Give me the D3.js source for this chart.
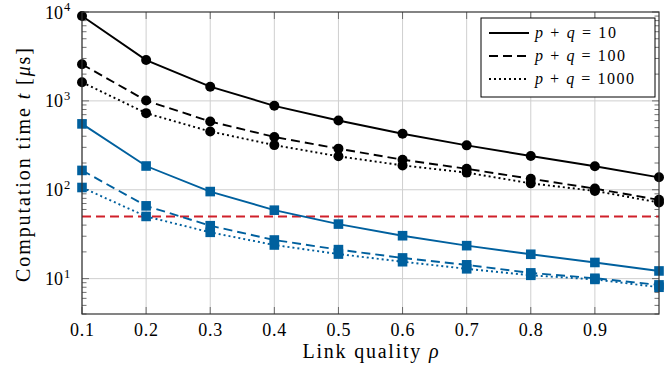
<!DOCTYPE html>
<html>
<head>
<meta charset="utf-8">
<script src="https://cdn.jsdelivr.net/npm/d3@7"></script>
<style>
  html, body { margin: 0; padding: 0; background: #fff; }
  svg { display: block; }
  text { font-family: "Liberation Serif", "DejaVu Serif", serif; fill: #000; }
</style>
</head>
<body>
<svg id="chart" width="672" height="368"></svg>
<script>
// ---- data ----
const rho = [0.1, 0.2, 0.3, 0.4, 0.5, 0.6, 0.7, 0.8, 0.9, 1.0];
const xTicks = [0.1, 0.2, 0.3, 0.4, 0.5, 0.6, 0.7, 0.8, 0.9];
const xTickLabels = ["0.1", "0.2", "0.3", "0.4", "0.5", "0.6", "0.7", "0.8", "0.9"];
const yTicks = [10, 100, 1000, 10000];
const yTickExps = ["1", "2", "3", "4"];
const legendLabels = ["10", "100", "1000"];

// black (circles)
const black10   = [9000, 2880, 1445, 880, 601, 427, 316, 240, 184, 138];
const black100  = [2580, 1008, 586, 393, 290, 218, 172, 133, 103, 77];
const black1000 = [1620, 728, 453, 318, 238, 188, 156, 118, 97, 72];
// blue (squares)
const blue10   = [551, 185, 95.4, 58.9, 41.1, 30.4, 23.5, 18.8, 15.2, 12.2];
const blue100  = [165, 65.9, 39.4, 27.2, 21.2, 17.1, 14.3, 11.6, 10.1, 8.5];
const blue1000 = [106, 50.1, 33.2, 23.9, 18.9, 15.5, 12.9, 10.9, 9.8, 8.0];
// threshold
const threshold = 50;

// ---- layout ----
const L = 82, R = 659, T = 12, B = 314;
const svg = d3.select("#chart");
const x = d3.scaleLinear().domain([0.1, 1.0]).range([L, R]);
const y = d3.scaleLog().domain([4, 10000]).range([B, T]);

const BLUE = "#00609e", RED = "#d0202a";
const styles = {
  solid: null,
  dashed: "9,5",
  dotted: "2,3"
};

// grid
const g = svg.append("g");
g.selectAll(".vx").data(xTicks).enter().append("line")
  .attr("x1", d => x(d)).attr("x2", d => x(d)).attr("y1", T).attr("y2", B)
  .attr("stroke", "#cfcfcf").attr("stroke-width", 1);
g.selectAll(".hy").data(yTicks.filter(d => d < 10000)).enter().append("line")
  .attr("x1", L).attr("x2", R).attr("y1", d => y(d)).attr("y2", d => y(d))
  .attr("stroke", "#cfcfcf").attr("stroke-width", 1);

// minor y ticks
const minor = [];
[1, 10, 100, 1000].forEach(dec => { for (let k = 2; k <= 9; k++) { const v = k * dec; if (v >= 4 && v < 10000) minor.push(v); } });
const tickCol = "#4d4d4d";
minor.forEach(v => {
  g.append("line").attr("x1", L).attr("x2", L + 4.5).attr("y1", y(v)).attr("y2", y(v)).attr("stroke", tickCol).attr("stroke-width", 0.8);
  g.append("line").attr("x1", R).attr("x2", R - 4.5).attr("y1", y(v)).attr("y2", y(v)).attr("stroke", tickCol).attr("stroke-width", 0.8);
});
yTicks.forEach(v => {
  g.append("line").attr("x1", L).attr("x2", L + 7).attr("y1", y(v)).attr("y2", y(v)).attr("stroke", tickCol).attr("stroke-width", 0.8);
  g.append("line").attr("x1", R).attr("x2", R - 7).attr("y1", y(v)).attr("y2", y(v)).attr("stroke", tickCol).attr("stroke-width", 0.8);
});
xTicks.forEach(v => {
  g.append("line").attr("x1", x(v)).attr("x2", x(v)).attr("y1", B).attr("y2", B - 7).attr("stroke", tickCol).attr("stroke-width", 0.8);
  g.append("line").attr("x1", x(v)).attr("x2", x(v)).attr("y1", T).attr("y2", T + 7).attr("stroke", tickCol).attr("stroke-width", 0.8);
});

// threshold line
svg.append("line").attr("x1", L).attr("x2", R).attr("y1", y(threshold)).attr("y2", y(threshold))
  .attr("stroke", RED).attr("stroke-width", 1.8).attr("stroke-dasharray", "9,5");

// series
const series = [
  { v: black10, c: "#000", dash: styles.solid, m: "circle" },
  { v: black100, c: "#000", dash: styles.dashed, m: "circle" },
  { v: black1000, c: "#000", dash: styles.dotted, m: "circle" },
  { v: blue10, c: BLUE, dash: styles.solid, m: "square" },
  { v: blue100, c: BLUE, dash: styles.dashed, m: "square" },
  { v: blue1000, c: BLUE, dash: styles.dotted, m: "square" }
];
const line = d3.line().x((d, i) => x(rho[i])).y(d => y(d));
series.forEach(s => {
  svg.append("path").attr("d", line(s.v)).attr("fill", "none")
    .attr("stroke", s.c).attr("stroke-width", 1.9)
    .attr("stroke-dasharray", s.dash);
  const mg = svg.append("g");
  if (s.m === "circle") {
    mg.selectAll("circle").data(s.v).enter().append("circle")
      .attr("cx", (d, i) => x(rho[i])).attr("cy", d => y(d)).attr("r", 5).attr("fill", s.c);
  } else {
    mg.selectAll("rect").data(s.v).enter().append("rect")
      .attr("x", (d, i) => x(rho[i]) - 4.8).attr("y", d => y(d) - 4.8)
      .attr("width", 9.6).attr("height", 9.6).attr("fill", s.c);
  }
});

// axis box
svg.append("rect").attr("x", L).attr("y", T).attr("width", R - L).attr("height", B - T)
  .attr("fill", "none").attr("stroke", "#333").attr("stroke-width", 1.2);

// x tick labels
svg.selectAll(".xl").data(xTicks).enter().append("text")
  .attr("x", d => x(d)).attr("y", 336).attr("text-anchor", "middle")
  .attr("font-size", 18).attr("textLength", 24).attr("lengthAdjust", "spacing")
  .text((d, i) => xTickLabels[i]);

// y tick labels
yTicks.forEach((v, i) => {
  svg.append("text").attr("x", 63).attr("y", y(v) + 6.5).attr("text-anchor", "end").attr("font-size", 18)
    .text("10");
  svg.append("text").attr("x", 64).attr("y", y(v) - 1).attr("font-size", 12.5).text(yTickExps[i]);
});

// axis labels
svg.append("text").attr("x", (L + R) / 2).attr("y", 358).attr("text-anchor", "middle")
  .attr("font-size", 20).attr("textLength", 136).attr("lengthAdjust", "spacing")
  .html('Link quality <tspan font-style="italic">ρ</tspan>');
svg.append("text").attr("transform", "translate(30,165) rotate(-90)").attr("text-anchor", "middle")
  .attr("font-size", 20).attr("textLength", 234).attr("lengthAdjust", "spacing")
  .html('Computation time <tspan font-style="italic">t</tspan> [<tspan font-style="italic">μ</tspan>s]');

// legend
const lg = svg.append("g");
lg.append("rect").attr("x", 481).attr("y", 18).attr("width", 174).attr("height", 79)
  .attr("fill", "#fff").attr("stroke", "#000").attr("stroke-width", 1);
const legDash = [styles.solid, styles.dashed, styles.dotted];
const legLen = [81, 90, 99];
legendLabels.forEach((lab, i) => {
  const yy = 33 + i * 23;
  lg.append("line").attr("x1", 489).attr("x2", 529).attr("y1", yy).attr("y2", yy)
    .attr("stroke", "#000").attr("stroke-width", 2).attr("stroke-dasharray", legDash[i]);
  lg.append("text").attr("x", 535).attr("y", yy + 5).attr("font-size", 16)
    .attr("textLength", legLen[i]).attr("lengthAdjust", "spacing")
    .html('<tspan font-style="italic">p</tspan> + <tspan font-style="italic">q</tspan> = ' + lab);
});
</script>
</body>
</html>
